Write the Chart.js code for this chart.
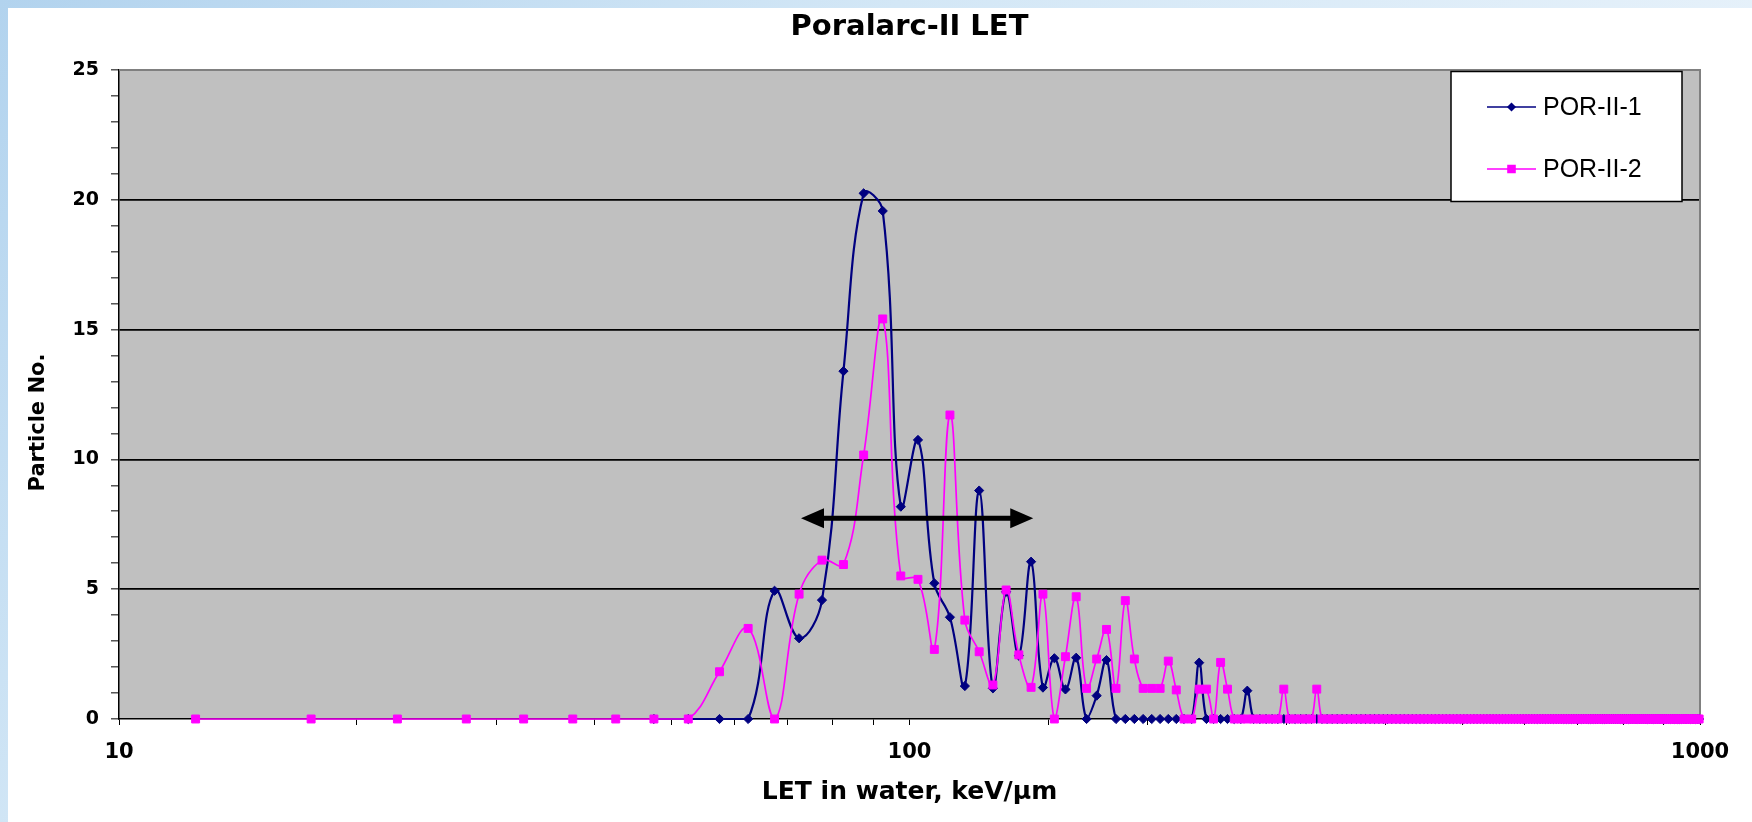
<!DOCTYPE html>
<html><head><meta charset="utf-8">
<script src="https://cdn.jsdelivr.net/npm/chart.js@4.4.1/dist/chart.umd.min.js"></script>
<style>
html,body{margin:0;padding:0;width:1752px;height:822px;overflow:hidden;}
body{background:linear-gradient(135deg,#b2d3ee 0%,#d3e7f6 35%,#e6f1fa 70%,#cfe4f4 100%);position:relative;}
#wrap{position:absolute;left:8px;top:8px;width:1744px;height:814px;background:#fff;}
canvas{display:block;}
</style></head><body>
<div id="wrap"><canvas id="c" width="1744" height="814"></canvas></div>
<script>
// ---- data ----
const chartTitle = 'Poralarc-II LET';
const xAxisTitle = 'LET in water, keV/\u00b5m';
const yAxisTitle = 'Particle No.';
const seriesNames = ['POR-II-1', 'POR-II-2'];
const xTickLabels = [10, 100, 1000];

// LET bin centres (keV/um)
const letBins = [
  12.5, 17.5, 22.5, 27.5, 32.5, 37.5, 42.5, 47.5, 52.5, 57.5,
  62.5, 67.5, 72.5, 77.5, 82.5, 87.5, 92.5, 97.5, 102.5, 107.5,
  112.5, 117.5, 122.5, 127.5, 132.5, 137.5, 142.5, 147.5, 152.5, 157.5,
  162.5, 167.5, 172.5, 177.5, 182.5, 187.5, 192.5, 197.5, 202.5, 207.5,
  212.5, 217.5, 222.5, 227.5, 232.5, 237.5, 242.5, 247.5, 252.5, 257.5,
  262.5, 267.5, 272.5, 277.5, 282.5, 287.5, 292.5, 297.5, 302.5, 307.5,
  312.5, 317.5, 322.5, 327.5, 332.5, 337.5, 342.5, 347.5, 352.5, 357.5,
  362.5, 367.5, 372.5, 377.5, 382.5, 387.5, 392.5, 397.5, 402.5, 407.5,
  412.5, 417.5, 422.5, 427.5, 432.5, 437.5, 442.5, 447.5, 452.5, 457.5,
  462.5, 467.5, 472.5, 477.5, 482.5, 487.5, 492.5, 497.5, 502.5, 507.5,
  512.5, 517.5, 522.5, 527.5, 532.5, 537.5, 542.5, 547.5, 552.5, 557.5,
  562.5, 567.5, 572.5, 577.5, 582.5, 587.5, 592.5, 597.5, 602.5, 607.5,
  612.5, 617.5, 622.5, 627.5, 632.5, 637.5, 642.5, 647.5, 652.5, 657.5,
  662.5, 667.5, 672.5, 677.5, 682.5, 687.5, 692.5, 697.5, 702.5, 707.5,
  712.5, 717.5, 722.5, 727.5, 732.5, 737.5, 742.5, 747.5, 752.5, 757.5,
  762.5, 767.5, 772.5, 777.5, 782.5, 787.5, 792.5, 797.5, 802.5, 807.5,
  812.5, 817.5, 822.5, 827.5, 832.5, 837.5, 842.5, 847.5, 852.5, 857.5,
  862.5, 867.5, 872.5, 877.5, 882.5, 887.5, 892.5, 897.5, 902.5, 907.5,
  912.5, 917.5, 922.5, 927.5, 932.5, 937.5, 942.5, 947.5, 952.5, 957.5,
  962.5, 967.5, 972.5, 977.5, 982.5, 987.5, 992.5, 997.5
];

// POR-II-1 particle numbers
const por1 = [
  null, null, null, null, null, null, null, 0, 0, 0,
  0, 4.94, 3.11, 4.58, 13.4, 20.25, 19.57, 8.18, 10.75, 5.23,
  3.92, 1.27, 8.8, 1.18, 4.9, 2.44, 6.06, 1.21, 2.34, 1.14,
  2.36, 0, 0.9, 2.27, 0, 0, 0, 0, 0, 0,
  0, 0, 0, 0, 2.17, 0, 0, 0, 0, 0,
  0, 1.09, 0, 0, 0, 0, 0, 0, 0, 0,
  0, 0, 0, 0, 0, 0, 0, 0, 0, 0,
  0, 0, 0, 0, 0, 0, 0, 0, 0, 0,
  0, 0, 0, 0, 0, 0, 0, 0, 0, 0,
  0, 0, 0, 0, 0, 0, 0, 0, 0, 0,
  0, 0, 0, 0, 0, 0, 0, 0, 0, 0,
  0, 0, 0, 0, 0, 0, 0, 0, 0, 0,
  0, 0, 0, 0, 0, 0, 0, 0, 0, 0,
  0, 0, 0, 0, 0, 0, 0, 0, 0, 0,
  0, 0, 0, 0, 0, 0, 0, 0, 0, 0,
  0, 0, 0, 0, 0, 0, 0, 0, 0, 0,
  0, 0, 0, 0, 0, 0, 0, 0, 0, 0,
  0, 0, 0, 0, 0, 0, 0, 0, 0, 0,
  0, 0, 0, 0, 0, 0, 0, 0, 0, 0,
  0, 0, 0, 0, 0, 0, 0, 0
];

// POR-II-2 particle numbers
const por2 = [
  0, 0, 0, 0, 0, 0, 0, 0, 0, 1.82,
  3.49, 0, 4.81, 6.12, 5.95, 10.17, 15.41, 5.51, 5.38, 2.68,
  11.71, 3.81, 2.59, 1.31, 4.97, 2.47, 1.22, 4.81, 0, 2.4,
  4.71, 1.18, 2.31, 3.45, 1.18, 4.56, 2.31, 1.18, 1.18, 1.18,
  2.23, 1.12, 0, 0, 1.15, 1.15, 0, 2.18, 1.15, 0,
  0, 0, 0, 0, 0, 0, 0, 1.15, 0, 0,
  0, 0, 0, 1.15, 0, 0, 0, 0, 0, 0,
  0, 0, 0, 0, 0, 0, 0, 0, 0, 0,
  0, 0, 0, 0, 0, 0, 0, 0, 0, 0,
  0, 0, 0, 0, 0, 0, 0, 0, 0, 0,
  0, 0, 0, 0, 0, 0, 0, 0, 0, 0,
  0, 0, 0, 0, 0, 0, 0, 0, 0, 0,
  0, 0, 0, 0, 0, 0, 0, 0, 0, 0,
  0, 0, 0, 0, 0, 0, 0, 0, 0, 0,
  0, 0, 0, 0, 0, 0, 0, 0, 0, 0,
  0, 0, 0, 0, 0, 0, 0, 0, 0, 0,
  0, 0, 0, 0, 0, 0, 0, 0, 0, 0,
  0, 0, 0, 0, 0, 0, 0, 0, 0, 0,
  0, 0, 0, 0, 0, 0, 0, 0, 0, 0,
  0, 0, 0, 0, 0, 0, 0, 0
];

// double-headed arrow annotation (LET range and level)
const arrowFromLET = 72.9;
const arrowToLET = 143.4;
const arrowLevel = 7.73;

// ---- styles ----
const NAVY = '#000080';
const PINK = '#FF00FF';
const BOLD = "'DejaVu Sans', 'Liberation Sans', sans-serif";
const ARIAL = "'Liberation Sans', Arial, sans-serif";

const plotDecor = {
  id: 'plotDecor',
  beforeDraw(chart) {
    const {ctx, chartArea: a} = chart;
    ctx.save();
    ctx.fillStyle = '#C0C0C0';
    ctx.fillRect(a.left, a.top, a.right - a.left, a.bottom - a.top);
    ctx.restore();
  },
  beforeDatasetsDraw(chart) {
    const {ctx, chartArea: a} = chart;
    ctx.save();
    ctx.strokeStyle = '#808080';
    ctx.lineWidth = 2;
    ctx.beginPath();
    ctx.moveTo(a.left, a.top);
    ctx.lineTo(a.right, a.top);
    ctx.lineTo(a.right, a.bottom);
    ctx.stroke();
    ctx.restore();
  },
  afterDraw(chart) {
    // y-axis title, placed as in the original (slightly below the plot centre)
    const {ctx, chartArea: a} = chart;
    ctx.save();
    ctx.translate(31, (a.top + a.bottom) / 2 + 28);
    ctx.rotate(-Math.PI / 2);
    ctx.font = 'bold 21px ' + BOLD;
    ctx.fillStyle = '#000';
    ctx.textAlign = 'center';
    ctx.textBaseline = 'middle';
    ctx.fillText(yAxisTitle, 0, 0);
    ctx.restore();
  }
};

const rangeArrow = {
  id: 'rangeArrow',
  afterDatasetsDraw(chart) {
    const {ctx, scales: {x, y}} = chart;
    const x1 = x.getPixelForValue(arrowFromLET);
    const x2 = x.getPixelForValue(arrowToLET);
    const yy = y.getPixelForValue(arrowLevel);
    const headL = 23, headH = 10;
    ctx.save();
    ctx.fillStyle = '#000';
    ctx.strokeStyle = '#000';
    ctx.lineWidth = 5;
    ctx.beginPath();
    ctx.moveTo(x1 + headL - 2, yy);
    ctx.lineTo(x2 - headL + 2, yy);
    ctx.stroke();
    ctx.beginPath();
    ctx.moveTo(x1, yy);
    ctx.lineTo(x1 + headL, yy - headH);
    ctx.lineTo(x1 + headL, yy + headH);
    ctx.closePath();
    ctx.fill();
    ctx.beginPath();
    ctx.moveTo(x2, yy);
    ctx.lineTo(x2 - headL, yy - headH);
    ctx.lineTo(x2 - headL, yy + headH);
    ctx.closePath();
    ctx.fill();
    ctx.restore();
  }
};

const boxLegend = {
  id: 'boxLegend',
  afterDraw(chart) {
    const {ctx, chartArea: a} = chart;
    const w = 231, h = 130;
    const bx = a.right - 18 - w, by = a.top + 1.5;
    ctx.save();
    ctx.fillStyle = '#fff';
    ctx.fillRect(bx, by, w, h);
    ctx.strokeStyle = '#000';
    ctx.lineWidth = 1.5;
    ctx.strokeRect(bx, by, w, h);
    chart.data.datasets.forEach((ds, i) => {
      const cy = by + 35.5 + i * 62;
      const lx1 = bx + 36, lx2 = bx + 85;
      ctx.strokeStyle = ds.borderColor;
      ctx.lineWidth = 1.5;
      ctx.beginPath();
      ctx.moveTo(lx1, cy);
      ctx.lineTo(lx2, cy);
      ctx.stroke();
      ctx.fillStyle = ds.backgroundColor;
      ctx.strokeStyle = ds.borderColor;
      Chart.helpers.drawPoint(ctx, {pointStyle: ds.pointStyle, radius: ds.legendRadius, rotation: 0, borderWidth: 1}, (lx1 + lx2) / 2, cy);
      ctx.fillStyle = '#000';
      ctx.font = '25px ' + ARIAL;
      ctx.textAlign = 'left';
      ctx.textBaseline = 'middle';
      ctx.fillText(ds.label, bx + 92, cy + 1);
    });
    ctx.restore();
  }
};

const isDecade = v => Math.abs(Math.log10(v) - Math.round(Math.log10(v))) < 1e-9;

new Chart(document.getElementById('c'), {
  type: 'line',
  data: {
    datasets: [
      {
        label: seriesNames[0],
        data: letBins.map((x, i) => ({x: x, y: por1[i]})),
        borderColor: NAVY, backgroundColor: NAVY,
        pointStyle: 'rectRot', pointRadius: 4.6, pointBorderWidth: 1,
        legendRadius: 3.5,
        borderWidth: 2.2, tension: 0.4, clip: false, order: 1
      },
      {
        label: seriesNames[1],
        data: letBins.map((x, i) => ({x: x, y: por2[i]})),
        borderColor: PINK, backgroundColor: PINK,
        pointStyle: 'rect', pointRadius: 5.6, pointBorderWidth: 1,
        legendRadius: 5,
        borderWidth: 1.7, tension: 0.4, clip: false, order: 0
      }
    ]
  },
  options: {
    responsive: false,
    animation: false,
    devicePixelRatio: 1,
    layout: {padding: {left: 0, right: 52, top: 0, bottom: 0}},
    plugins: {
      legend: {display: false},
      tooltip: {enabled: false},
      title: {
        display: true, text: chartTitle, color: '#000', fullSize: false,
        font: {family: BOLD, size: 29, weight: 'bold', lineHeight: 1.2},
        padding: {top: 2, bottom: 25.2}
      }
    },
    scales: {
      x: {
        type: 'logarithmic', min: 10, max: 1000,
        afterFit: s => { s.height = 103; },
        ticks: {
          autoSkip: false, maxRotation: 0, minRotation: 0,
          callback: v => (isDecade(v) && xTickLabels.includes(Math.round(v))) ? String(Math.round(v)) : '',
          color: '#000', padding: 15,
          font: {family: BOLD, size: 21, weight: 'bold'}
        },
        grid: {drawOnChartArea: false, drawTicks: true, tickLength: 6, tickColor: '#000', tickWidth: 1},
        border: {color: '#000', width: 1.5},
        title: {
          display: true, text: xAxisTitle, color: '#000',
          font: {family: BOLD, size: 25, weight: 'bold', lineHeight: 1.2},
          padding: {top: 0, bottom: 15}
        }
      },
      y: {
        min: 0, max: 25,
        afterFit: s => { s.width = 111; },
        ticks: {
          stepSize: 1, autoSkip: false,
          callback: v => (v % 5 === 0) ? String(v) : '',
          color: '#000', padding: 12,
          font: {family: BOLD, size: 19, weight: 'bold'}
        },
        grid: {
          color: c => (c.tick && c.tick.value % 5 === 0 && c.tick.value > 0 && c.tick.value < 25) ? '#000' : 'rgba(0,0,0,0)',
          lineWidth: 1.7,
          tickColor: '#000', tickWidth: 1, tickLength: 8
        },
        border: {color: '#000', width: 1.5},
        title: {display: false, text: yAxisTitle}
      }
    }
  },
  plugins: [plotDecor, rangeArrow, boxLegend]
});
</script>
</body></html>
